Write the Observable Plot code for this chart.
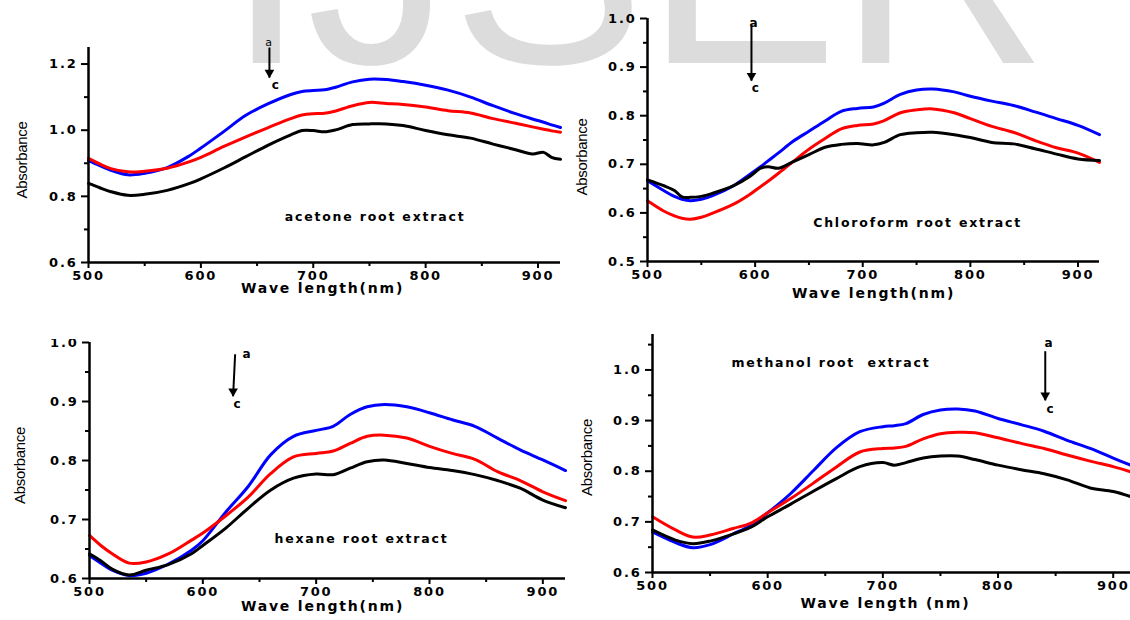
<!DOCTYPE html>
<html><head><meta charset="utf-8">
<script src="https://cdn.jsdelivr.net/npm/d3@7"></script>
<script src="https://cdn.jsdelivr.net/npm/@observablehq/plot@0.6"></script>
<style>
html,body{margin:0;padding:0;background:#fff;}
#stage{position:relative;width:1130px;height:620px;overflow:hidden;background:#fff;}
.wm{position:absolute;left:0;top:0;}
.panel{position:absolute;overflow:hidden;}
.panel svg{position:absolute;left:0;overflow:visible;}
.panel svg text{letter-spacing:1.8px;white-space:pre;}
</style></head>
<body><div id="stage">
<svg class="wm" width="1130" height="620"><text x="226" y="63" font-family="Liberation Sans" font-size="290" fill="#dcdcdc">IJSER</text></svg>
</div>
<script>
// ---------- data ----------
const seriesNames = ["a", "b", "c"];
const seriesColors = ["#0000ff", "#ff0000", "#000000"];

const xTicks = [500, 600, 700, 800, 900];
const xMinor = [550, 650, 750, 850];

// acetone root extract
const acetoneWl = [500,510,520,535,550,570,590,600,620,640,660,680,690,700,710,720,735,750,765,780,800,820,840,860,880,895,905,912,920];
const acetoneA = [0.908,0.893,0.879,0.865,0.870,0.887,0.923,0.946,0.995,1.045,1.080,1.108,1.117,1.120,1.122,1.130,1.146,1.154,1.153,1.147,1.136,1.121,1.100,1.074,1.050,1.034,1.024,1.016,1.008];
const acetoneB = [0.915,0.898,0.884,0.874,0.876,0.885,0.905,0.918,0.950,0.980,1.008,1.035,1.046,1.050,1.051,1.058,1.074,1.084,1.081,1.078,1.070,1.059,1.052,1.035,1.021,1.010,1.003,0.998,0.994];
const acetoneC = [0.839,0.826,0.814,0.803,0.806,0.818,0.839,0.853,0.885,0.920,0.955,0.986,0.999,0.999,0.995,1.001,1.017,1.019,1.019,1.014,0.999,0.986,0.976,0.958,0.941,0.928,0.933,0.918,0.912];
const acetoneYTicks = [0.6, 0.8, 1.0, 1.2];
const acetoneYMinor = [0.7, 0.9, 1.1];

// chloroform root extract
const chloroWl = [500,515,525,532,540,550,560,580,595,605,612,622,635,650,665,680,695,710,720,735,750,765,785,800,820,840,860,880,900,920];
const chloroA = [0.666,0.646,0.634,0.628,0.625,0.628,0.635,0.656,0.679,0.695,0.707,0.724,0.747,0.768,0.789,0.809,0.815,0.818,0.826,0.844,0.853,0.855,0.849,0.840,0.830,0.821,0.808,0.794,0.780,0.761];
const chloroB = [0.625,0.604,0.594,0.589,0.587,0.591,0.599,0.618,0.638,0.654,0.665,0.682,0.705,0.731,0.753,0.773,0.780,0.783,0.790,0.806,0.812,0.814,0.806,0.794,0.778,0.766,0.749,0.734,0.723,0.704];
const chloroC = [0.668,0.656,0.646,0.633,0.632,0.634,0.640,0.656,0.675,0.692,0.695,0.692,0.705,0.720,0.735,0.741,0.743,0.740,0.745,0.761,0.765,0.766,0.761,0.755,0.745,0.742,0.732,0.721,0.711,0.708];
const chloroYTicks = [0.5, 0.6, 0.7, 0.8, 0.9, 1.0];
const chloroYMinor = [0.55, 0.65, 0.75, 0.85, 0.95];

// hexane root extract
const hexaneWl = [500,510,520,535,550,570,590,600,620,640,660,680,700,715,730,745,760,780,800,820,840,860,880,900,920];
const hexaneA = [0.639,0.626,0.614,0.605,0.609,0.625,0.648,0.664,0.712,0.756,0.810,0.841,0.851,0.858,0.878,0.891,0.895,0.891,0.881,0.869,0.858,0.838,0.818,0.801,0.783];
const hexaneB = [0.673,0.656,0.642,0.626,0.628,0.642,0.665,0.677,0.706,0.738,0.778,0.806,0.812,0.816,0.829,0.841,0.843,0.838,0.824,0.812,0.802,0.781,0.766,0.747,0.732];
const hexaneC = [0.642,0.630,0.616,0.606,0.614,0.624,0.642,0.656,0.685,0.719,0.750,0.770,0.777,0.776,0.787,0.798,0.801,0.795,0.788,0.783,0.776,0.766,0.753,0.733,0.720];
const hexaneYTicks = [0.6, 0.7, 0.8, 0.9, 1.0];
const hexaneYMinor = [0.65, 0.75, 0.85, 0.95];

// methanol root extract
const methanolWl = [500,520,535,550,570,585,600,620,640,660,680,700,710,720,735,750,765,780,800,820,840,860,880,900,915];
const methanolA = [0.680,0.659,0.649,0.655,0.676,0.693,0.718,0.756,0.802,0.847,0.878,0.888,0.890,0.894,0.912,0.921,0.923,0.919,0.904,0.892,0.879,0.861,0.845,0.826,0.812];
const methanolB = [0.710,0.684,0.670,0.674,0.687,0.697,0.718,0.746,0.777,0.809,0.838,0.845,0.846,0.849,0.864,0.874,0.877,0.876,0.866,0.855,0.845,0.832,0.820,0.809,0.799];
const methanolC = [0.684,0.664,0.657,0.662,0.676,0.689,0.710,0.735,0.761,0.786,0.809,0.817,0.812,0.817,0.826,0.830,0.830,0.823,0.812,0.803,0.795,0.783,0.767,0.760,0.750];
const methanolYTicks = [0.6, 0.7, 0.8, 0.9, 1.0];
const methanolYMinor = [0.65, 0.75, 0.85, 0.95, 1.05];

// text
const notes = ["acetone root extract", "Chloroform root extract", "hexane root extract", "methanol root  extract"];
const xLabels = ["Wave length(nm)", "Wave length(nm)", "Wave length(nm)", "Wave length (nm)"];
const yLabel = "Absorbance";

// annotation anchors (data coordinates)
const notePos = [[755, 0.739], [751, 0.580], [740, 0.667], [655, 1.014]];
const arrowPos = [[661, 1.25, 661, 1.159], [596.6, 0.986, 596.6, 0.872], [628.5, 0.980, 626.7, 0.909], [841, 1.037, 841, 0.940]];
const aPos = [[661, 1.265], [599.4, 0.991], [639.4, 0.980], [844.6, 1.052]];
const cPos = [[667, 1.135], [601, 0.856], [631, 0.895], [846, 0.922]];

// ---------- layout ----------
const panels = [
  {wl: acetoneWl, s: [acetoneA, acetoneB, acetoneC], yd: [0.6, 1.25], xd: [500, 920], yt: acetoneYTicks, ym: acetoneYMinor,
   box: {left: 0, top: 0, w: 580, h: 310}, svgTop: 0, w: 580, h: 310, m: [47, 20, 48, 88], yl: [-66, 5], xl: [-2, 30], aStyle: {fontWeight: "normal", fontSize: 11}},
  {wl: chloroWl, s: [chloroA, chloroB, chloroC], yd: [0.5, 1.0], xd: [500, 920], yt: chloroYTicks, ym: chloroYMinor,
   box: {left: 570, top: 0, w: 560, h: 304}, svgTop: 0, w: 560, h: 304, m: [18, 31, 43, 77], yl: [-65, 17], xl: [0, 36], aStyle: {}},
  {wl: hexaneWl, s: [hexaneA, hexaneB, hexaneC], yd: [0.6, 1.0], xd: [500, 920], yt: hexaneYTicks, ym: hexaneYMinor,
   box: {left: 0, top: 339, w: 580, h: 281}, svgTop: -9, w: 580, h: 290, m: [12, 15, 42, 89], yl: [-69, 5], xl: [-5, 32], aStyle: {}},
  {wl: methanolWl, s: [methanolA, methanolB, methanolC], yd: [0.6, 1.07], xd: [500, 915], yt: methanolYTicks, ym: methanolYMinor,
   box: {left: 570, top: 320, w: 560, h: 300}, svgTop: 0, w: 560, h: 300, m: [14, 0, 48, 82], yl: [-65, 4], xl: [-6, 35], aStyle: {}}
];

const stage = document.getElementById("stage");

panels.forEach((p, k) => {
  const rows = [];
  p.s.forEach((vals, i) => vals.forEach((v, j) => rows.push({w: p.wl[j], v, s: seriesNames[i]})));
  const arrows = [{x1: arrowPos[k][0], y1: arrowPos[k][1], x2: arrowPos[k][2], y2: arrowPos[k][3]}];
  const chart = Plot.plot({
    width: p.w, height: p.h,
    marginTop: p.m[0], marginRight: p.m[1], marginBottom: p.m[2], marginLeft: p.m[3],
    x: {domain: p.xd},
    y: {domain: p.yd},
    color: {domain: seriesNames, range: seriesColors},
    style: {background: "transparent", fontFamily: "DejaVu Sans", color: "#000", overflow: "visible"},
    marks: [
      Plot.line(rows, {x: "w", y: "v", z: "s", stroke: "s", strokeWidth: 3, curve: "catmull-rom"}),
      Plot.axisX(xTicks, {tickSize: 6, tickPadding: 2, fontSize: 13, fontWeight: "bold", label: null, strokeWidth: 2}),
      Plot.axisX(xMinor, {tickSize: 4, tickFormat: () => "", label: null, strokeWidth: 2}),
      Plot.axisY(p.yt, {tickSize: 7, tickPadding: 4, fontSize: 13, fontWeight: "bold", tickFormat: d => d.toFixed(1), label: null, strokeWidth: 2}),
      Plot.axisY(p.ym, {tickSize: 4, tickFormat: () => "", label: null, strokeWidth: 2}),
      Plot.ruleX([p.xd[0]], {strokeWidth: 2.5}),
      Plot.ruleY([p.yd[0]], {strokeWidth: 2.5}),
      Plot.text([yLabel], {text: d => d, frameAnchor: "left", textAnchor: "middle", rotate: -90, dx: p.yl[0], dy: p.yl[1],
        fontFamily: "Liberation Sans", fontSize: 15, fontWeight: "normal"}),
      Plot.text([xLabels[k]], {text: d => d, frameAnchor: "bottom", textAnchor: "middle", dx: p.xl[0], dy: p.xl[1], fontSize: 14, fontWeight: "bold"}),
      Plot.text([notes[k]], {text: d => d, x: () => notePos[k][0], y: () => notePos[k][1], fontSize: 12.5, fontWeight: "bold"}),
      Plot.link(arrows, {x1: "x1", y1: "y1", x2: "x2", y2: "y2", strokeWidth: 2}),
      Plot.dot(arrows, {x: "x2", y: "y2", symbol: "triangle", rotate: 180, r: 3.6, fill: "#000", stroke: "none", dy: -5}),
      Plot.text(["a"], {text: d => d, x: () => aPos[k][0], y: () => aPos[k][1], fontSize: 12, fontWeight: "bold", ...p.aStyle}),
      Plot.text(["c"], {text: d => d, x: () => cPos[k][0], y: () => cPos[k][1], fontSize: 12, fontWeight: "bold"})
    ]
  });
  d3.select(chart).selectAll("text").filter(function() { return this.textContent === yLabel; })
    .style("letter-spacing", "-0.3px");
  const box = document.createElement("div");
  box.className = "panel";
  box.style.left = p.box.left + "px";
  box.style.top = p.box.top + "px";
  box.style.width = p.box.w + "px";
  box.style.height = p.box.h + "px";
  chart.style.top = p.svgTop + "px";
  box.appendChild(chart);
  stage.appendChild(box);
});
</script>
</body></html>
